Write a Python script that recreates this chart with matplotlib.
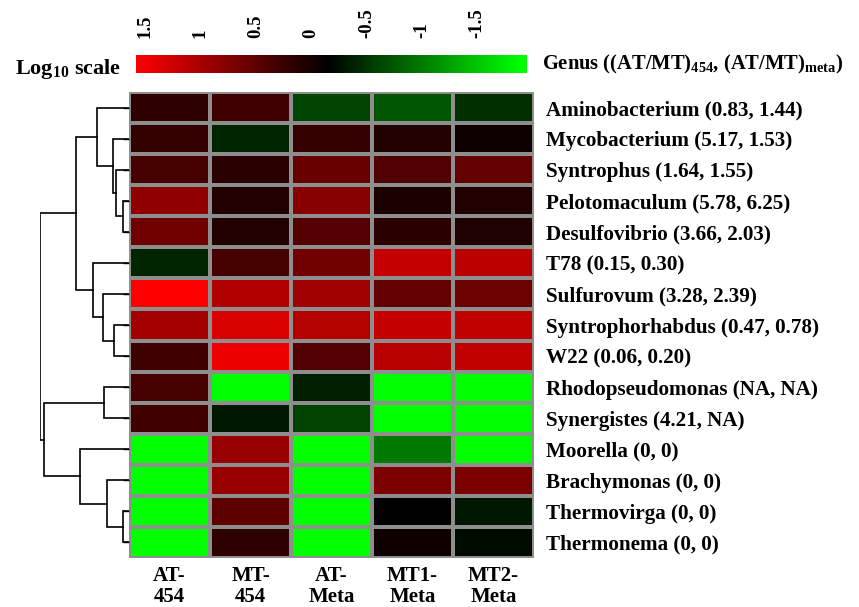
import numpy as np
import matplotlib
matplotlib.use("Agg")
import matplotlib.pyplot as plt
from matplotlib.colors import LinearSegmentedColormap, Normalize

plt.rcParams['font.family'] = ['Liberation Serif', 'DejaVu Serif']
plt.rcParams['font.weight'] = 'bold'
plt.rcParams['mathtext.fontset'] = 'custom'
plt.rcParams['mathtext.rm'] = 'Liberation Serif:bold'
plt.rcParams['mathtext.bf'] = 'Liberation Serif:bold'

# data (log10 ratios; NA / zero shown as saturated green)
genera = ["Aminobacterium (0.83, 1.44)", "Mycobacterium (5.17, 1.53)", "Syntrophus (1.64, 1.55)",
          "Pelotomaculum (5.78, 6.25)", "Desulfovibrio (3.66, 2.03)", "T78 (0.15, 0.30)",
          "Sulfurovum (3.28, 2.39)", "Syntrophorhabdus (0.47, 0.78)", "W22 (0.06, 0.20)",
          "Rhodopseudomonas (NA, NA)", "Synergistes (4.21, NA)", "Moorella (0, 0)",
          "Brachymonas (0, 0)", "Thermovirga (0, 0)", "Thermonema (0, 0)"]
samples = ["AT-\n454", "MT-\n454", "AT-\nMeta", "MT1-\nMeta", "MT2-\nMeta"]

at_454 = [0.28, 0.30, 0.42, 0.85, 0.66, -0.20, 1.50, 0.97, 0.37, 0.42, 0.38, -1.5, -1.5, -1.5, -1.5]
mt_454 = [0.38, -0.20, 0.25, 0.20, 0.20, 0.41, 1.04, 1.27, 1.40, -1.5, -0.14, 0.88, 0.90, 0.56, 0.27]
at_meta = [-0.41, 0.31, 0.61, 0.80, 0.50, 0.67, 0.93, 1.06, 0.50, -0.18, -0.39, -1.5, -1.5, -1.5, -1.5]
mt1_meta = [-0.50, 0.19, 0.47, 0.16, 0.25, 1.16, 0.58, 1.16, 1.08, -1.5, -1.5, -0.71, 0.73, 0.0, 0.09]
mt2_meta = [-0.28, 0.09, 0.58, 0.19, 0.18, 1.10, 0.64, 1.13, 1.13, -1.5, -1.5, -1.5, 0.73, -0.14, -0.07]

# row clustering: (child a, child b, height); leaves are 0..14 in display order
merges = [(3, 4, 5.7), (2, 15, 13.3), (1, 16, 15.7), (0, 17, 32.3),
          (7, 8, 14.7), (6, 19, 26.3), (5, 20, 36.3), (18, 21, 53.0),
          (9, 10, 24.7), (13, 14, 5.7), (12, 24, 22.3), (11, 25, 49.0),
          (23, 26, 85.7), (22, 27, 89.0)]

cbar_ticks = [1.5, 1, 0.5, 0, -0.5, -1, -1.5]

values = np.array([at_454, mt_454, at_meta, mt1_meta, mt2_meta]).T
cmap = LinearSegmentedColormap.from_list("rg", [(0, 1, 0), (0, 0, 0), (1, 0, 0)])

W, H = 859, 607
fig = plt.figure(figsize=(W / 100, H / 100), dpi=100)

def px_axes(x0, y0, x1, y1):
    return fig.add_axes([x0 / W, 1 - y1 / H, (x1 - x0) / W, (y1 - y0) / H])

# heatmap
ax = px_axes(129, 92, 534, 558)
n_rows, n_cols = values.shape
ax.pcolormesh(np.arange(n_cols + 1), np.arange(n_rows + 1), values, cmap=cmap,
              norm=Normalize(-1.5, 1.5), edgecolors='#8e8e8e', linewidth=1.5)
ax.set_xlim(0, n_cols)
ax.set_ylim(n_rows, 0)
ax.set_yticks(np.arange(n_rows) + 0.5)
ax.set_yticklabels(genera, fontsize=15.2)
ax.set_xticks(np.arange(n_cols) + 0.5)
ax.set_xticklabels(samples, fontsize=15, linespacing=1.05)
ax.tick_params(axis='y', left=True, right=False, labelleft=False, labelright=True,
               length=4, width=1, pad=4.5)
ax.tick_params(axis='x', length=0, pad=6)
for s in ax.spines.values():
    s.set_visible(False)

# dendrogram
dax = px_axes(40, 92, 129, 558)
pos = {i: i + 0.5 for i in range(n_rows)}
hgt = {i: 0.0 for i in range(n_rows)}
for k, (a, b, h) in enumerate(merges):
    nid = n_rows + k
    dax.plot([hgt[a], h, h, hgt[b]], [pos[a], pos[a], pos[b], pos[b]],
             color='black', lw=1.2, solid_joinstyle='miter')
    pos[nid] = (pos[a] + pos[b]) / 2
    hgt[nid] = h
dax.set_xlim(89.5, 0)
dax.set_ylim(n_rows, 0)
dax.axis('off')

# colour bar
cax = px_axes(136, 55, 527, 73)
grad = np.linspace(1.58, -1.95, 256)[None, :]
cax.imshow(grad, cmap=cmap, norm=Normalize(-1.9, 1.6), aspect='auto',
           extent=(1.58, -1.95, 0, 1))
cax.set_xlim(1.58, -1.95)
cax.set_xticks(cbar_ticks)
cax.set_xticklabels([f"{t:g}" for t in cbar_ticks], rotation=90, fontsize=13.5)
cax.xaxis.tick_top()
cax.tick_params(axis='x', length=0, pad=12)
cax.set_yticks([])
for s in cax.spines.values():
    s.set_visible(False)

fig.text(15 / W, 1 - 74 / H, "Log$_{10}$ scale", fontsize=16, ha='left', va='baseline')
fig.text(542 / W, 1 - 69 / H, "Genus ((AT/MT)$_{454}$, (AT/MT)$_{\\mathrm{meta}}$)",
         fontsize=14.8, ha='left', va='baseline')

fig.savefig("out.png", dpi=100)
